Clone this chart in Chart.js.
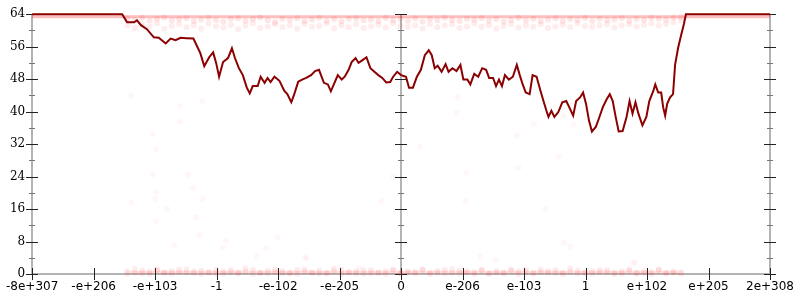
<!DOCTYPE html>
<html lang="en">

<head>
  <meta charset="UTF-8">
  <title>Float walk</title>
  <script src="https://cdn.jsdelivr.net/npm/chart.js"></script>
  <style>
    html, body { margin: 0; padding: 0; background: #fff; }
    #wrap { width: 800px; height: 300px; }
  </style>
</head>

<body>
  <div id="wrap"><canvas id="chart" width="800" height="300"></canvas></div>
  <script>
    // x axis: ordered float space, one unit per tick
    const xTickLabels = ['-8e+307', '-e+206', '-e+103', '-1', '-e-102', '-e-205', '0',
      'e-206', 'e-103', '1', 'e+102', 'e+205', '2e+308']

    // main walk
    const lineX = [-6.00, -4.536, -4.456, -4.343, -4.295, -4.230, -4.134, -4.021, -3.941, -3.828,
      -3.748, -3.667, -3.587, -3.490, -3.378, -3.265, -3.201, -3.121, -3.056, -3.008,
      -2.960, -2.895, -2.815, -2.751, -2.702, -2.638, -2.574, -2.509, -2.461, -2.413,
      -2.332, -2.284, -2.220, -2.171, -2.123, -2.059, -1.978, -1.898, -1.850, -1.785,
      -1.737, -1.673, -1.609, -1.544, -1.464, -1.399, -1.335, -1.255, -1.190, -1.142,
      -1.094, -1.029, -0.965, -0.917, -0.853, -0.804, -0.740, -0.692, -0.627, -0.563,
      -0.499, -0.434, -0.370, -0.306, -0.241, -0.177, -0.129, -0.064, 0.000, 0.080,
      0.129, 0.193, 0.257, 0.322, 0.386, 0.450, 0.499, 0.547, 0.595, 0.659,
      0.724, 0.772, 0.836, 0.901, 0.965, 1.013, 1.078, 1.126, 1.190, 1.255,
      1.319, 1.383, 1.432, 1.496, 1.544, 1.592, 1.641, 1.689, 1.753, 1.818,
      1.882, 1.930, 1.978, 2.027, 2.091, 2.139, 2.204, 2.268, 2.316, 2.364,
      2.397, 2.445, 2.493, 2.557, 2.622, 2.686, 2.734, 2.799, 2.847, 2.911,
      2.960, 3.008, 3.056, 3.104, 3.169, 3.217, 3.281, 3.346, 3.394, 3.442,
      3.490, 3.539, 3.603, 3.667, 3.716, 3.764, 3.812, 3.860, 3.925, 3.989,
      4.037, 4.102, 4.134, 4.182, 4.230, 4.262, 4.295, 4.327, 4.375, 4.423,
      4.456, 4.504, 4.552, 4.600, 4.632, 6.00]
    const lineY = [64, 64, 62, 62, 62.5, 61.3, 60.3, 58.3, 58.2, 56.8,
      58, 57.6, 58.2, 58.1, 58, 54.4, 51.2, 53.4, 54.6, 52,
      48.6, 52.2, 53.2, 55.6, 53.2, 50.7, 49, 45.9, 44.5, 46.3,
      46.3, 48.6, 47.1, 48.3, 47.3, 48.6, 47.6, 45.1, 44.3, 42.3,
      44.3, 47.4, 47.9, 48.3, 49, 50, 50.3, 47.1, 46.7, 45,
      46.7, 49, 47.9, 48.6, 50.3, 52.2, 53.2, 52, 52.7, 53.4,
      50.7, 49.8, 49, 48.3, 47.2, 47.3, 48.6, 49.8, 49, 48.6,
      45.9, 45.9, 48.6, 50.3, 53.9, 55.1, 53.9, 50.7, 51.3, 49.8,
      51.7, 49.8, 50.7, 50, 51.5, 47.9, 47.9, 46.7, 49.3, 48.6,
      50.7, 50.3, 48.3, 48.3, 46.3, 47.9, 46.3, 49, 47.9, 48.6,
      51.5, 49, 46.7, 44.7, 44.3, 49, 48.6, 45.1, 42.6, 40.2,
      38.7, 40.2, 38.7, 39.9, 42.3, 42.6, 41.1, 39, 42.6, 43.5,
      44.7, 41.9, 37.8, 35.1, 36.3, 38.3, 41.1, 43.1, 44.3, 42.6,
      38.7, 35.1, 35.2, 38.7, 42.6, 39.5, 42.3, 39.5, 36.6, 38.7,
      42.6, 45.1, 46.7, 44.7, 44.7, 41.1, 39, 41.9, 43.5, 44.3,
      51.5, 55.6, 58.7, 61.6, 64, 64]

    // faint samples: two bands near the top and bottom, plus a few strays
    const bandX = [-4.45, -4.33, -4.21, -4.09, -3.97, -3.85, -3.73, -3.61, -3.49, -3.37,
      -3.25, -3.13, -3.01, -2.89, -2.77, -2.65, -2.53, -2.41, -2.29, -2.17,
      -2.05, -1.93, -1.81, -1.69, -1.57, -1.45, -1.33, -1.21, -1.09, -0.97,
      -0.85, -0.73, -0.61, -0.49, -0.37, -0.25, -0.13, -0.01, 0.11, 0.23,
      0.35, 0.47, 0.59, 0.71, 0.83, 0.95, 1.07, 1.19, 1.31, 1.43,
      1.55, 1.67, 1.79, 1.91, 2.03, 2.15, 2.27, 2.39, 2.51, 2.63,
      2.75, 2.87, 2.99, 3.11, 3.23, 3.35, 3.47, 3.59, 3.71, 3.83,
      3.95, 4.07, 4.19, 4.31, 4.43, 4.55]
    const topA = [63.0, 62.6, 63.1, 62.4, 62.9, 63.2, 62.5, 62.8, 63.0, 62.3,
      62.7, 63.1, 62.6, 62.2, 62.9, 63.0, 62.4, 62.8, 63.2, 62.5,
      62.1, 62.9, 62.6, 63.0, 62.3, 62.7, 63.1, 62.4, 62.8, 62.2,
      62.9, 63.0, 62.5, 62.7, 62.3, 63.1, 62.6, 62.9, 62.4, 63.0,
      62.2, 62.8, 62.5, 63.1, 62.6, 62.3, 62.9, 62.7, 63.0, 62.4,
      62.8, 62.2, 62.6, 63.1, 62.5, 62.9, 62.3, 62.7, 63.0, 62.4,
      62.8, 62.6, 63.1, 62.3, 62.9, 62.5, 62.7, 63.0, 62.4, 62.8,
      62.6, 63.1, 62.9, 62.7, 63.2, 63.3]
    const topB = [61.2, 60.6, 61.5, 60.9, 61.8, 60.4, 61.1, 61.6, 60.8, 61.3,
      60.5, 61.7, 61.0, 60.7, 61.4, 60.3, 61.2, 61.8, 60.6, 61.0,
      61.5, 60.8, 61.3, 60.4, 61.6, 60.9, 61.1, 61.7, 60.5, 61.2,
      60.8, 61.5, 60.6, 61.0, 61.4, 60.7, 61.8, 61.1, 60.9, 61.3,
      60.5, 61.6, 60.8, 61.2, 61.5, 60.6, 61.0, 61.7, 60.9, 61.3,
      60.4, 61.1, 61.6, 60.7, 61.2, 60.9, 61.5, 60.6, 61.0, 61.4,
      60.8, 61.7, 61.1, 60.9, 61.3, 61.6, 60.7, 61.2, 61.5, 61.0,
      61.4, 61.8, 61.2, 61.6, 62.0, 62.4]
    const bottomA = [0.6, 0.3, 0.8, 0.5, 0.9, 0.4, 0.7, 1.0, 0.3, 0.6,
      0.8, 0.5, 0.2, 0.7, 0.9, 0.4, 0.6, 1.0, 0.3, 0.8,
      0.5, 0.7, 0.2, 0.9, 0.6, 0.4, 0.8, 0.3, 0.7, 1.0,
      0.5, 0.6, 0.2, 0.9, 0.4, 0.7, 0.8, 0.3, 0.6, 0.5,
      0.9, 0.4, 0.7, 1.0, 0.3, 0.8, 0.6, 0.5, 0.9, 0.2,
      0.7, 0.4, 0.8, 0.6, 1.0, 0.3, 0.5, 0.7, 0.9, 0.4,
      0.6, 0.8, 0.3, 0.7, 0.5, 0.9, 0.4, 0.6, 0.8, 0.2,
      0.7, 0.5, 0.9, 0.3, 0.6, 0.4]
    const bottomB = [0.1, 1.3, 0.2, 0.0, 1.1, 0.3, 0.1, 0.4, 1.2, 0.2,
      0.0, 0.3, 1.0, 0.1, 0.4, 0.2, 1.4, 0.0, 0.3, 0.1,
      1.2, 0.2, 0.4, 0.0, 1.1, 0.3, 0.1, 0.2, 1.3, 0.0,
      0.4, 0.1, 1.0, 0.2, 0.3, 0.0, 1.2, 0.1, 0.4, 0.2,
      1.1, 0.0, 0.3, 0.1, 1.3, 0.2, 0.4, 0.0, 1.0, 0.1,
      0.3, 0.2, 1.2, 0.0, 0.4, 0.1, 1.1, 0.3, 0.2, 0.0,
      1.4, 0.1, 0.3, 0.2, 1.0, 0.4, 0.0, 0.1, 1.2, 0.3,
      0.2, 0.0, 1.1, 0.1, 0.3, 0.2]
    const strayX = [-4.39, -3.59, -3.59, -4.04, -3.99, -4.04, -3.46, -3.99, -3.38, -4.39,
      -4.00, -3.81, -3.99, -3.33, -3.28, -3.23, -3.23, 0.92, 0.90, 2.16,
      1.88, 0.31, 2.56, 1.91, 1.06, -0.13, -0.32, 1.05, 2.35, 2.64,
      2.80, -3.69, -2.90, -2.85, -2.35, -2.20, -2.01, -1.56, -0.69, 1.29,
      1.53, 2.65, 2.75, 3.80, -1.54, 3.78]
    const strayY = [44, 41.4, 37.5, 34.4, 30.8, 24.5, 24.5, 20.2, 21.2, 17.6,
      18.5, 16.1, 13, 14, 9.6, 42.6, 18.5, 43.5, 39.7, 37,
      34.2, 31.3, 28.9, 26.2, 25, 24, 18, 18, 16.1, 39,
      36.8, 7, 6.5, 8.2, 4.3, 6.3, 8.9, 4.1, 1.4, 4.3,
      3.4, 7.7, 6.7, 2.9, 3.8, 2.6]

    // pale smear right under the top line and along the floor
    const hazeTopX = [-6, 6]
    const hazeTopY = [63.35, 63.35]
    const hazeBottomX = [-4.4, 4.5]
    const hazeBottomY = [0.45, 0.45]

    const pts = (xs, ys) => xs.map((x, i) => ({ x: x, y: ys[i] }))

    const dot = (alpha) => ({
      showLine: false,
      pointRadius: 3,
      pointBackgroundColor: `rgba(255, 40, 40, ${alpha})`,
      pointBorderWidth: 0,
      pointHoverRadius: 0,
      clip: false
    })

    // gnuplot-like axes: grey spines at both ends and at zero, ticks crossing them
    const axesPlugin = {
      id: 'axes',
      beforeDatasetsDraw(chart) {
        const ctx = chart.ctx
        const xs = chart.scales.x
        const ys = chart.scales.y
        const y0 = ys.getPixelForValue(0)
        const y64 = ys.getPixelForValue(64)
        ctx.save()
        ctx.strokeStyle = '#b4b4b4'
        ctx.lineWidth = 2
        ctx.beginPath()
        ctx.moveTo(xs.getPixelForValue(-6), y0)
        ctx.lineTo(xs.getPixelForValue(6), y0)
        ;[-6, 0, 6].forEach(v => {
          const px = Math.round(xs.getPixelForValue(v))
          ctx.moveTo(px, y0)
          ctx.lineTo(px, y64)
        })
        ctx.stroke()

        ctx.lineWidth = 1
        ;[-6, 0, 6].forEach(v => {
          const px = Math.round(xs.getPixelForValue(v))
          for (let t = 0; t <= 64; t += 4) {
            const py = Math.round(ys.getPixelForValue(t)) + 0.5
            const major = t % 8 === 0
            const len = major ? 6 : 3
            ctx.strokeStyle = major ? '#222' : '#777'
            ctx.beginPath()
            ctx.moveTo(px - len, py)
            ctx.lineTo(px + len, py)
            ctx.stroke()
          }
        })
        ctx.strokeStyle = '#222'
        for (let v = -6; v <= 6; v++) {
          const px = Math.round(xs.getPixelForValue(v)) + 0.5
          ctx.beginPath()
          ctx.moveTo(px, y0 - 6)
          ctx.lineTo(px, y0 + 6)
          ctx.stroke()
        }
        ctx.restore()
      }
    }

    new Chart(document.getElementById('chart').getContext('2d'), {
      type: 'scatter',
      data: {
        datasets: [
          {
            data: pts(lineX, lineY),
            showLine: true,
            borderColor: '#8b0000',
            borderWidth: 2,
            pointRadius: 0,
            tension: 0,
            clip: false
          },
          { data: pts(hazeTopX, hazeTopY), showLine: true, borderColor: 'rgba(255, 0, 0, 0.25)', borderWidth: 3, pointRadius: 0, clip: false },
          { data: pts(hazeBottomX, hazeBottomY), showLine: true, borderColor: 'rgba(255, 0, 0, 0.1)', borderWidth: 3, pointRadius: 0, clip: false },
          { data: pts(bandX, topA), ...dot(0.12) },
          { data: pts(bandX, topB), ...dot(0.09) },
          { data: pts(bandX, bottomA), ...dot(0.1) },
          { data: pts(bandX, bottomB), ...dot(0.08) },
          { data: pts(strayX, strayY), ...dot(0.04) }
        ]
      },
      options: {
        responsive: false,
        animation: false,
        events: [],
        layout: { padding: { top: 8, right: 27, left: 0, bottom: 0 } },
        plugins: { legend: { display: false }, tooltip: { enabled: false } },
        scales: {
          x: {
            type: 'linear',
            min: -6,
            max: 6,
            afterFit: s => { s.height = 26 },
            grid: { display: false, drawTicks: false },
            border: { display: false },
            ticks: {
              stepSize: 1,
              autoSkip: false,
              maxRotation: 0,
              padding: 6,
              color: '#000',
              font: { family: 'DejaVu Sans', size: 12 },
              callback: v => xTickLabels[v + 6]
            }
          },
          y: {
            min: 0,
            max: 64,
            afterFit: s => { s.width = 27 },
            grid: { display: false, drawTicks: false },
            border: { display: false },
            ticks: {
              stepSize: 8,
              padding: 7,
              color: '#000',
              font: { family: 'DejaVu Serif', size: 12 }
            }
          }
        }
      },
      plugins: [axesPlugin]
    })
  </script>
</body>

</html>
